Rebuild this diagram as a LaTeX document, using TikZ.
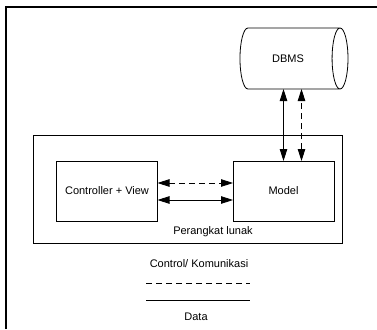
\documentclass[tikz,border=0pt]{standalone}
\usepackage{fontspec}
\setmainfont{Liberation Sans}
\usepackage{tikz}
\usetikzlibrary{shapes.geometric, arrows.meta, positioning, calc}

\begin{document}
\begin{tikzpicture}[x=1pt, y=-1pt,
  every node/.style={font=\fontsize{11}{13}\selectfont, outer sep=0pt},
  box/.style={draw, thick, minimum width=101pt, minimum height=60pt},
  data/.style={thick, {Triangle[length=12pt,width=7.5pt]}-{Triangle[length=12pt,width=7.5pt]}},
  ctrl/.style={data, dash pattern=on 6pt off 4pt}]
\useasboundingbox (0,0) rectangle (377,329);

% frame
\draw[line width=1.1pt] (6,329) -- (6,7) -- (377,7);

% database
\node[draw, thick, cylinder, aspect=1.1, minimum width=61pt, minimum height=108pt] (dbms) at (288,58.5) {DBMS};

% software
\node[draw, thick, minimum width=309pt, minimum height=108pt] (sw) at (187.5,189) {};
\node[box] (cv) at (107,191) {Controller + View};
\node[box] (model) at (283.5,191) {Model};
\node (swlabel) at (213,232) {Perangkat lunak};

\draw[ctrl] ([yshift=8pt]cv.east) -- ([yshift=8pt]cv.east -| model.west);
\draw[data] ([yshift=-9pt]cv.east) -- ([yshift=-9pt]cv.east -| model.west);
\draw[data] (model.north) -- (model.north |- dbms.south);
\draw[ctrl] ([xshift=18pt]model.north) -- ([xshift=18pt]model.north |- dbms.south);

% legend
\node (ctllabel) at (199,264) {Control/ Komunikasi};
\coordinate (ctlA) at (146,283);
\coordinate (ctlB) at (250,283);
\coordinate (datA) at (146,300);
\coordinate (datB) at (250,300);
\draw[thick, dash pattern=on 6pt off 4pt] (ctlA) -- (ctlB);
\draw[thick] (datA) -- (datB);
\node (datlabel) at (196,317) {Data};
\end{tikzpicture}
\end{document}
